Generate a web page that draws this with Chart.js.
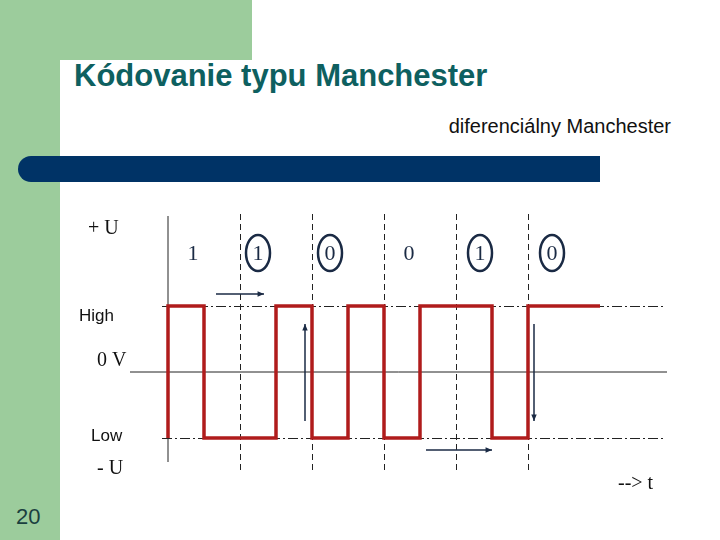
<!DOCTYPE html>
<html>
<head>
<meta charset="utf-8">
<script src="https://cdn.jsdelivr.net/npm/chart.js@4"></script>
<style>
  html, body { margin: 0; padding: 0; background: #fff; }
  #wrap { position: relative; width: 720px; height: 540px; overflow: hidden; font-family: 'Liberation Sans', Arial, sans-serif; }
  .abs { position: absolute; white-space: nowrap; }
  .serif { font-family: 'Liberation Serif', 'Times New Roman', serif; }
  canvas { position: absolute; left: 0; top: 0; }
</style>
</head>
<body>
<div id="wrap">
  <div class="abs" style="left:0;top:0;width:60px;height:540px;background:#9ccc9c"></div>
  <div class="abs" style="left:0;top:0;width:252px;height:60px;background:#9ccc9c"></div>
  <div class="abs" style="left:60px;top:60px;width:30px;height:30px;background:#fff;border-top-left-radius:14px"></div>
  <div class="abs" style="left:18px;top:156px;width:582px;height:26px;background:#003366;border-radius:13px 0 0 13px"></div>
  <div class="abs" style="left:74px;top:58px;font-size:31px;font-weight:bold;color:#0e6060">Kódovanie typu Manchester</div>
  <div class="abs" style="right:49px;top:115px;font-size:20px;color:#111">diferenciálny Manchester</div>
  <div class="abs" style="left:16px;top:504px;font-size:22px;color:#1a3f3f">20</div>
  <canvas id="c" width="720" height="540"></canvas>
</div>
<script>
// bit values shown above each bit cell, and whether they are circled
const bits = ['1', '1', '0', '0', '1', '0'];
const circled = [false, true, true, false, true, true];
// signal: transition times (in half-bit units) and level after each
const edgeTimes = [0, 1, 3, 4, 5, 6, 7, 9, 10, 11, 12];
const levels = [-1, 1, -1, 1, -1, 1, -1, 1, -1, 1, 1];
// bit boundaries drawn as dashed verticals
const boundaries = [2, 4, 6, 8, 10];

const overlay = {
  id: 'overlay',
  beforeDatasetsDraw(chart) {
    const { ctx, scales: { x, y } } = chart;
    ctx.save();
    ctx.strokeStyle = '#222';
    ctx.lineWidth = 1;
    // axis and zero line
    ctx.beginPath();
    ctx.moveTo(x.getPixelForValue(0), 216); ctx.lineTo(x.getPixelForValue(0), 462);
    ctx.moveTo(130, y.getPixelForValue(0)); ctx.lineTo(667, y.getPixelForValue(0));
    ctx.stroke();
    // dashed bit boundaries
    ctx.setLineDash([6, 4]);
    ctx.beginPath();
    boundaries.forEach(t => {
      const px = Math.round(x.getPixelForValue(t)) + 0.5;
      ctx.moveTo(px, 214); ctx.lineTo(px, 470);
    });
    ctx.stroke();
    // dash-dot high / low levels
    ctx.setLineDash([10, 3, 2, 3]);
    ctx.beginPath();
    [1, -1].forEach(v => {
      const py = Math.round(y.getPixelForValue(v)) + 0.5;
      ctx.moveTo(162, py); ctx.lineTo(665, py);
    });
    ctx.stroke();
    ctx.setLineDash([]);
    // bit labels
    ctx.fillStyle = '#1a2a44';
    ctx.font = '22px "Liberation Serif", serif';
    ctx.textAlign = 'center';
    ctx.textBaseline = 'middle';
    const xs = [193, 258, 330, 409, 480, 552];
    bits.forEach((b, i) => {
      ctx.fillText(b, xs[i], 254);
      if (circled[i]) {
        ctx.strokeStyle = '#1a2a44';
        ctx.lineWidth = 2.5;
        ctx.beginPath();
        ctx.ellipse(xs[i], 253, 12, 18, 0, 0, Math.PI * 2);
        ctx.stroke();
      }
    });
    // arrows
    ctx.strokeStyle = '#1a2a44';
    ctx.fillStyle = '#1a2a44';
    ctx.lineWidth = 1.5;
    const arrow = (x1, y1, x2, y2) => {
      ctx.beginPath(); ctx.moveTo(x1, y1); ctx.lineTo(x2, y2); ctx.stroke();
      const a = Math.atan2(y2 - y1, x2 - x1);
      ctx.beginPath();
      ctx.moveTo(x2, y2);
      ctx.lineTo(x2 - 7 * Math.cos(a - 0.4), y2 - 7 * Math.sin(a - 0.4));
      ctx.lineTo(x2 - 7 * Math.cos(a + 0.4), y2 - 7 * Math.sin(a + 0.4));
      ctx.closePath(); ctx.fill();
    };
    arrow(216, 294, 264, 294);
    arrow(305, 421, 305, 324);
    arrow(534, 324, 534, 421);
    arrow(426, 450, 492, 450);
    // side labels
    ctx.fillStyle = '#111';
    ctx.textAlign = 'left';
    ctx.font = '20px "Liberation Serif", serif';
    ctx.fillText('+ U', 88, 229);
    ctx.fillText('0 V', 97, 361);
    ctx.fillText('- U', 97, 469);
    ctx.fillText('--> t', 618, 484);
    ctx.font = '17px "Liberation Sans", sans-serif';
    ctx.fillText('High', 79, 316);
    ctx.fillText('Low', 91, 436);
    ctx.restore();
  }
};

new Chart(document.getElementById('c'), {
  type: 'line',
  data: {
    datasets: [{
      data: edgeTimes.map((t, i) => ({ x: t, y: levels[i] })),
      stepped: 'after',
      borderColor: '#b01c1c',
      borderWidth: 3.5,
      pointRadius: 0,
      fill: false,
    }],
  },
  options: {
    responsive: false,
    animation: false,
    layout: { padding: { left: 132, right: 48, top: 174, bottom: 3 } },
    plugins: { legend: { display: false }, tooltip: { enabled: false } },
    scales: {
      x: { type: 'linear', min: -1, max: 14, display: false },
      y: { min: -2.5, max: 3, display: false },
    },
  },
  plugins: [overlay],
});
</script>
</body>
</html>
